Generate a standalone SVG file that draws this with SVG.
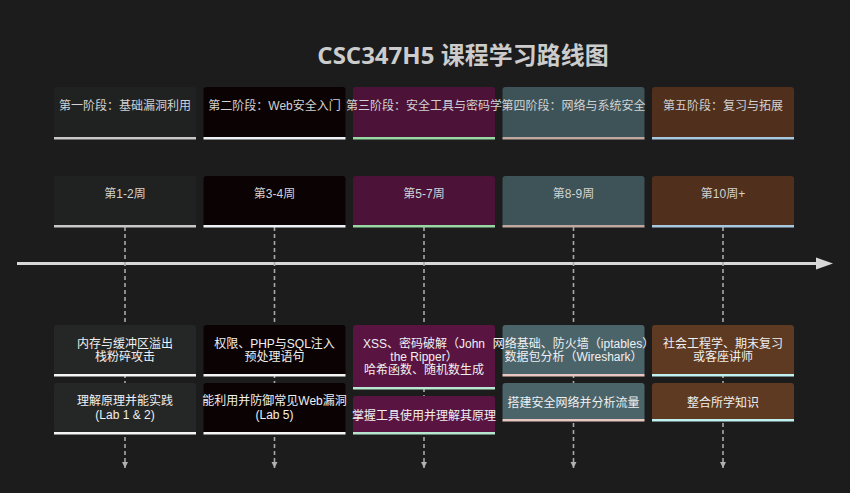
<svg xmlns="http://www.w3.org/2000/svg" width="850" height="493" viewBox="0 0 850 493">
<defs>
<style>
text{font-family:"Liberation Sans","Noto Sans CJK SC",sans-serif;font-size:12px;text-anchor:middle}
.title{font-family:"Open Sans","Noto Sans CJK SC",sans-serif;font-size:24px;font-weight:bold;fill:#cccccc}
.h{fill:#d2d2d2}
.c{fill:#f0f0f0}
.dash{stroke:#a8a8a8;stroke-width:1.6;stroke-dasharray:4 3;fill:none}
</style>
<marker id="ah" viewBox="0 0 10 10" refX="10" refY="5" markerWidth="6" markerHeight="7" markerUnits="userSpaceOnUse" orient="auto">
<path d="M0,0 L10,5 L0,10 Z" fill="#b0b0b0"/>
</marker>
</defs>
<rect width="850" height="493" fill="#1c1c1c"/>
<text class="title" x="463" y="64">CSC347H5 课程学习路线图</text>

<g id="connectors">
<line x1="17" y1="263.5" x2="818" y2="263.5" stroke="#d8d8d8" stroke-width="3"/>
<polygon points="816,257.5 833,263.5 816,269.5" fill="#d8d8d8"/>
<line class="dash" x1="125" y1="227" x2="125" y2="468" marker-end="url(#ah)"/>
<line class="dash" x1="274.5" y1="227" x2="274.5" y2="468" marker-end="url(#ah)"/>
<line class="dash" x1="424" y1="227" x2="424" y2="468" marker-end="url(#ah)"/>
<line class="dash" x1="573.5" y1="227" x2="573.5" y2="468" marker-end="url(#ah)"/>
<line class="dash" x1="723" y1="227" x2="723" y2="468" marker-end="url(#ah)"/>
</g>

<!-- Phase headers -->
<g id="phase1"><rect x="54" y="87" width="142" height="52" rx="3" fill="#202222"/><rect x="54" y="137" width="142" height="2.5" fill="#c8c8c8"/><text class="h" x="125" y="110">第一阶段：基础漏洞利用</text></g>
<g id="phase2"><rect x="203.5" y="87" width="142" height="52" rx="3" fill="#0b0203"/><rect x="203.5" y="137" width="142" height="2.5" fill="#eef2f6"/><text class="h" x="274.5" y="110">第二阶段：Web安全入门</text></g>
<g id="phase3"><rect x="353" y="87" width="142" height="52" rx="3" fill="#4d1237"/><rect x="353" y="137" width="142" height="2.5" fill="#98d8a2"/><text class="h" x="424" y="110">第三阶段：安全工具与密码学</text></g>
<g id="phase4"><rect x="502.5" y="87" width="142" height="52" rx="3" fill="#3e5358"/><rect x="502.5" y="137" width="142" height="2.5" fill="#c0a8a0"/><text class="h" x="573.5" y="110">第四阶段：网络与系统安全</text></g>
<g id="phase5"><rect x="652" y="87" width="142" height="52" rx="3" fill="#50301d"/><rect x="652" y="137" width="142" height="2.5" fill="#a8c8e0"/><text class="h" x="723" y="110">第五阶段：复习与拓展</text></g>

<!-- Weeks -->
<g id="week1"><rect x="54" y="176" width="142" height="51" rx="3" fill="#202222"/><rect x="54" y="225" width="142" height="2.5" fill="#c8c8c8"/><text class="h" x="125" y="198">第1-2周</text></g>
<g id="week2"><rect x="203.5" y="176" width="142" height="51" rx="3" fill="#0b0203"/><rect x="203.5" y="225" width="142" height="2.5" fill="#eef2f6"/><text class="h" x="274.5" y="198">第3-4周</text></g>
<g id="week3"><rect x="353" y="176" width="142" height="51" rx="3" fill="#4d1237"/><rect x="353" y="225" width="142" height="2.5" fill="#98d8a2"/><text class="h" x="424" y="198">第5-7周</text></g>
<g id="week4"><rect x="502.5" y="176" width="142" height="51" rx="3" fill="#3e5358"/><rect x="502.5" y="225" width="142" height="2.5" fill="#c0a8a0"/><text class="h" x="573.5" y="198">第8-9周</text></g>
<g id="week5"><rect x="652" y="176" width="142" height="51" rx="3" fill="#50301d"/><rect x="652" y="225" width="142" height="2.5" fill="#a8c8e0"/><text class="h" x="723" y="198">第10周+</text></g>

<!-- Topics -->
<g id="topic1"><rect x="54" y="325" width="142" height="51" rx="3" fill="#252727"/><rect x="54" y="374" width="142" height="2.5" fill="#f5f5f5"/><text class="c" x="125" y="348">内存与缓冲区溢出</text><text class="c" x="125" y="361">栈粉碎攻击</text></g>
<g id="topic2"><rect x="203.5" y="325" width="142" height="51" rx="3" fill="#0b0203"/><rect x="203.5" y="374" width="142" height="2.5" fill="#f5f5f5"/><text class="c" x="274.5" y="348">权限、PHP与SQL注入</text><text class="c" x="274.5" y="361">预处理语句</text></g>
<g id="topic3"><rect x="353" y="325" width="142" height="64" rx="3" fill="#5a1441"/><rect x="353" y="387" width="142" height="2.5" fill="#b8e6d0"/><text class="c" x="424" y="348">XSS、密码破解（John</text><text class="c" x="424" y="361">the Ripper）</text><text class="c" x="424" y="374">哈希函数、随机数生成</text></g>
<g id="topic4"><rect x="502.5" y="325" width="142" height="51" rx="3" fill="#4b646a"/><rect x="502.5" y="374" width="142" height="2.5" fill="#e8c8c0"/><text class="c" x="573.5" y="348">网络基础、防火墙（iptables）</text><text class="c" x="573.5" y="361">数据包分析（Wireshark）</text></g>
<g id="topic5"><rect x="652" y="325" width="142" height="51" rx="3" fill="#5e3a22"/><rect x="652" y="374" width="142" height="2.5" fill="#c0f0f0"/><text class="c" x="723" y="348">社会工程学、期末复习</text><text class="c" x="723" y="361">或客座讲师</text></g>

<!-- Goals -->
<g id="goal1"><rect x="54" y="383" width="142" height="51" rx="3" fill="#252727"/><rect x="54" y="432" width="142" height="2.5" fill="#f5f5f5"/><text class="c" x="125" y="405">理解原理并能实践</text><text class="c" x="125" y="419">(Lab 1 &amp; 2)</text></g>
<g id="goal2"><rect x="203.5" y="383" width="142" height="51" rx="3" fill="#0b0203"/><rect x="203.5" y="432" width="142" height="2.5" fill="#f5f5f5"/><text class="c" x="274.5" y="405">能利用并防御常见Web漏洞</text><text class="c" x="274.5" y="419">(Lab 5)</text></g>
<g id="goal3"><rect x="353" y="396" width="142" height="38" rx="3" fill="#5a1441"/><rect x="353" y="432" width="142" height="2.5" fill="#b8e6d0"/><text class="c" x="424" y="420">掌握工具使用并理解其原理</text></g>
<g id="goal4"><rect x="502.5" y="383" width="142" height="38" rx="3" fill="#4b646a"/><rect x="502.5" y="419" width="142" height="2.5" fill="#e8c8c0"/><text class="c" x="573.5" y="407">搭建安全网络并分析流量</text></g>
<g id="goal5"><rect x="652" y="383" width="142" height="38" rx="3" fill="#5e3a22"/><rect x="652" y="419" width="142" height="2.5" fill="#c0f0f0"/><text class="c" x="723" y="407">整合所学知识</text></g>
</svg>
